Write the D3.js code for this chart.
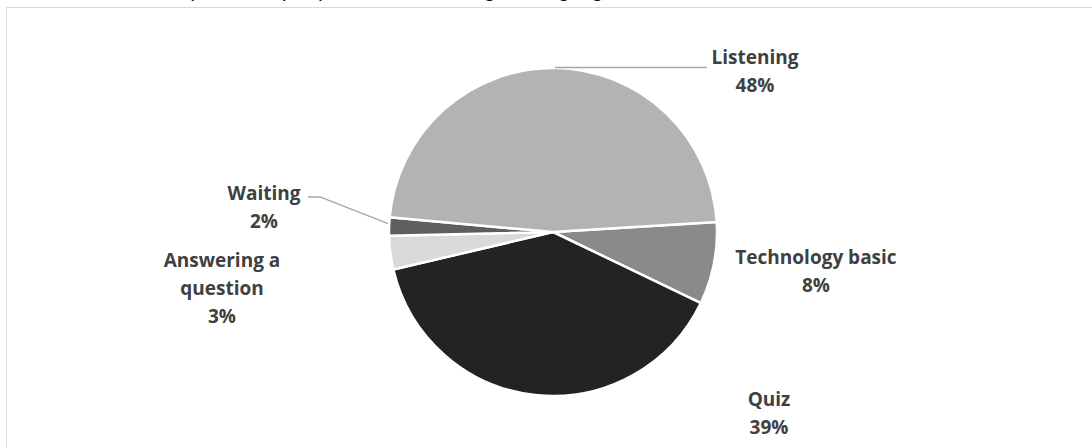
<!DOCTYPE html>
<html>
<head>
<meta charset="utf-8">
<script src="https://cdn.jsdelivr.net/npm/d3@7"></script>
<style>
  html, body { margin: 0; padding: 0; background: #fff; }
  svg { display: block; }
</style>
</head>
<body>
<svg id="chart" width="1092" height="448"></svg>
<script>
(function () {
  "use strict";

  // ── Data ────────────────────────────────────────────────────────────────────
  const categories = ["Technology basic", "Quiz", "Answering a question", "Waiting", "Listening"];
  const values     = [8.1, 39.2, 3.3, 1.8, 47.6];
  const pctLabels  = ["8%", "39%", "3%", "2%", "48%"];
  const sliceFills = ["#8a8a8a", "#232323", "#d9d9d9", "#5e5e5e", "#b3b3b3"];

  // ── Layout ──────────────────────────────────────────────────────────────────
  const W = 1092, H = 448;
  const CX = 553, CY = 232, R = 164;
  const START_DEG = 86.5;   // first slice angle (clockwise from 12 o'clock)

  // label anchor (centre x, first baseline y) and line breaks per slice
  const labelLayout = {
    "Technology basic":     { x: 816, y: 264, lines: ["Technology basic"] },
    "Quiz":                 { x: 769, y: 406, lines: ["Quiz"] },
    "Answering a question": { x: 222, y: 267, lines: ["Answering a", "question"] },
    "Waiting":              { x: 264, y: 200, lines: ["Waiting"] },
    "Listening":            { x: 755, y: 64,  lines: ["Listening"] }
  };
  const LINE_H = 28;

  const svg = d3.select("#chart");

  // ── Title (cut off at the top edge) ─────────────────────────────────────────
  svg.append("text")
    .attr("x", 4)
    .attr("y", -3)
    .attr("font-family", "Lato, 'Liberation Sans', sans-serif")
    .attr("font-style", "italic")
    .attr("font-size", "22px")
    .attr("fill", "#111")
    .text("Chart 3: Class time spent on input practices in the English language classroom");

  // ── Frame ───────────────────────────────────────────────────────────────────
  svg.append("rect")
    .attr("x", 6.5).attr("y", 7.5)
    .attr("width", W + 20).attr("height", H + 20)
    .attr("fill", "none")
    .attr("stroke", "#d9d9d9")
    .attr("stroke-width", 1);

  // ── Pie ─────────────────────────────────────────────────────────────────────
  const start = START_DEG * Math.PI / 180;
  const pie = d3.pie()
    .sort(null)
    .value(d => d.value)
    .startAngle(start)
    .endAngle(start + 2 * Math.PI);

  const rows = categories.map((c, i) => ({
    name: c, value: values[i], pct: pctLabels[i], fill: sliceFills[i]
  }));
  const arcs = pie(rows);

  const arc = d3.arc().innerRadius(0).outerRadius(R);

  const g = svg.append("g").attr("transform", `translate(${CX},${CY})`);

  g.selectAll("path.slice")
    .data(arcs)
    .join("path")
    .attr("class", "slice")
    .attr("d", arc)
    .attr("fill", d => d.data.fill)
    .attr("stroke", "#fff")
    .attr("stroke-width", 2.5)
    .attr("stroke-linejoin", "round");

  // ── Leader lines ────────────────────────────────────────────────────────────
  const lineColor = "#a6a6a6";
  const edgePoint = (d, frac) => {
    const a = d.startAngle + (d.endAngle - d.startAngle) * frac;
    return [CX + R * Math.sin(a), CY - R * Math.cos(a)];
  };
  const byName = name => arcs.find(a => a.data.name === name);

  // Listening: from top of pie, horizontal to label
  svg.append("path")
    .attr("d", d3.line()([[CX + 2, CY - R - 0.5], [707, CY - R - 0.5]]))
    .attr("fill", "none").attr("stroke", lineColor).attr("stroke-width", 1.3);

  // Waiting: from slice edge to label
  const wEdge = edgePoint(byName("Waiting"), 0.5);
  svg.append("path")
    .attr("d", d3.line()([[308, 197], [320, 197], [wEdge[0] - 1, wEdge[1] - 3]]))
    .attr("fill", "none").attr("stroke", lineColor).attr("stroke-width", 1.3);

  // ── Labels ──────────────────────────────────────────────────────────────────
  arcs.forEach(d => {
    const lay = labelLayout[d.data.name];
    const t = svg.append("text")
      .attr("text-anchor", "middle")
      .attr("font-family", "'Open Sans', Lato, sans-serif")
      .attr("font-weight", "bold")
      .attr("font-size", "19px")
      .attr("fill", "#404040");
    lay.lines.concat([d.data.pct]).forEach((ln, i) => {
      t.append("tspan")
        .attr("x", lay.x)
        .attr("y", lay.y + i * LINE_H)
        .text(ln);
    });
  });
})();
</script>
</body>
</html>
